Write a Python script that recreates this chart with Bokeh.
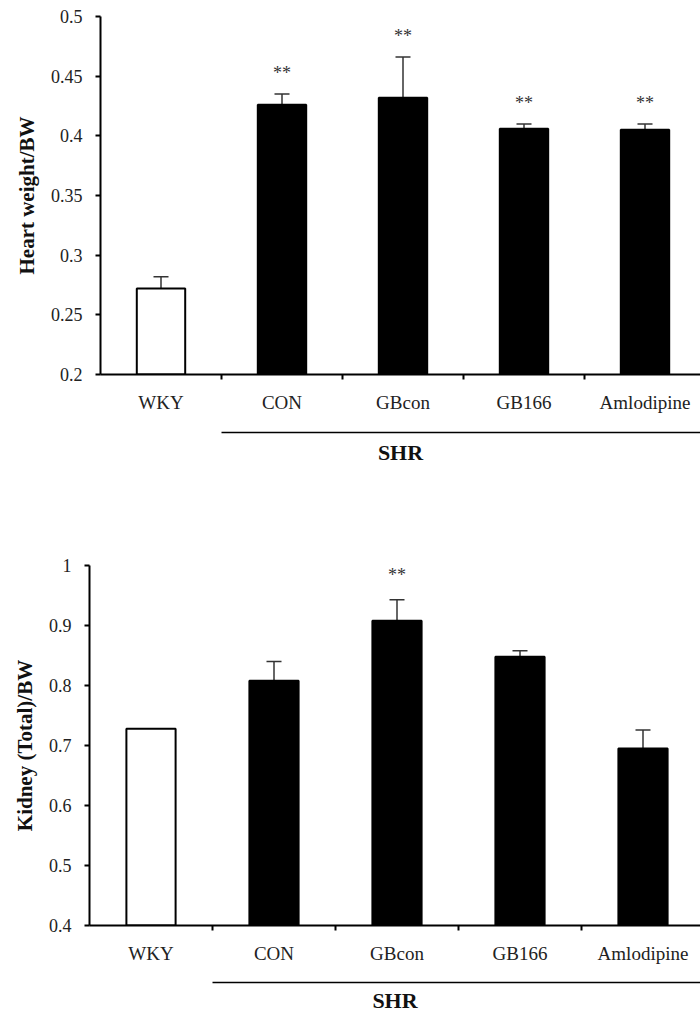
from bokeh.plotting import figure
from bokeh.models import FixedTicker, LinearAxis, Range1d, ColumnDataSource, Whisker, TeeHead
from bokeh.embed import file_html
from bokeh.resources import INLINE

categories = ["WKY", "CON", "GBcon", "GB166", "Amlodipine"]
bar_colors = ["white", "black", "black", "black", "black"]

heart_values = [0.272, 0.426, 0.432, 0.406, 0.405]
heart_errors = [0.010, 0.009, 0.034, 0.004, 0.005]
heart_stars = ["", "**", "**", "**", "**"]
heart_ticks = [0.2, 0.25, 0.3, 0.35, 0.4, 0.45, 0.5]
heart_tick_labels = ["0.2", "0.25", "0.3", "0.35", "0.4", "0.45", "0.5"]

kidney_values = [0.728, 0.808, 0.908, 0.848, 0.695]
kidney_errors = [0.0, 0.032, 0.035, 0.010, 0.031]
kidney_stars = ["", "", "**", "", ""]
kidney_ticks = [0.4, 0.5, 0.6, 0.7, 0.8, 0.9, 1.0]
kidney_tick_labels = ["0.4", "0.5", "0.6", "0.7", "0.8", "0.9", "1"]

group_label = "SHR"
group_span = (1, 5)

SERIF = "Liberation Serif"
TXT = "#111111"


def make_chart(values, errors, stars, ticks, tick_labels, ylabel, x_end,
               height, border_top, border_left, border_bottom, star_offset,
               cat_gap, group_gap):
    n = len(categories)
    centers = [i + 0.5 for i in range(n)]
    p = figure(width=700, height=height, output_backend="svg", toolbar_location=None,
               x_range=Range1d(0, x_end), y_range=Range1d(ticks[0], ticks[-1]),
               min_border_top=border_top, min_border_left=border_left,
               min_border_bottom=border_bottom, min_border_right=0,
               x_axis_type=None, y_axis_type=None)
    p.outline_line_color = None
    p.xgrid.visible = False
    p.ygrid.visible = False
    p.background_fill_color = "white"
    p.border_fill_color = "white"

    src = ColumnDataSource(dict(x=centers, top=values, color=bar_colors))
    p.vbar(x="x", top="top", bottom=ticks[0], width=0.4, source=src,
           fill_color="color", line_color="black", line_width=2)

    ex = [c for c, e in zip(centers, errors) if e > 0]
    et = [v for v, e in zip(values, errors) if e > 0]
    eu = [v + e for v, e in zip(values, errors) if e > 0]
    esrc = ColumnDataSource(dict(x=ex, top=et, upper=eu))
    w = Whisker(source=esrc, base="x", upper="upper", lower="top", dimension="height",
                line_color="#333333", line_width=1.5,
                upper_head=TeeHead(size=15, line_color="#333333", line_width=1.5),
                lower_head=None)
    p.add_layout(w)

    ssrc = ColumnDataSource(dict(x=centers, y=[v + e for v, e in zip(values, errors)], t=stars))
    p.text(x="x", y="y", text="t", source=ssrc, y_offset=star_offset,
           text_align="center", text_baseline="middle", text_color="#333333",
           text_font=SERIF, text_font_size="18px")

    # y axis
    ya = LinearAxis(ticker=FixedTicker(ticks=ticks, minor_ticks=[]),
                    major_label_overrides={t: l for t, l in zip(ticks, tick_labels)})
    ya.axis_label = ylabel
    ya.axis_label_text_font = SERIF
    ya.axis_label_text_font_style = "bold"
    ya.axis_label_text_font_size = "21px"
    ya.axis_label_text_color = TXT
    ya.axis_label_standoff = 9
    ya.major_label_text_font = SERIF
    ya.major_label_text_font_size = "18px"
    ya.major_label_text_color = "#222222"
    ya.major_label_standoff = 13
    ya.axis_line_width = 2
    ya.axis_line_color = "black"
    ya.major_tick_line_width = 2
    ya.major_tick_line_color = "black"
    ya.major_tick_out = 5
    ya.major_tick_in = 0
    ya.minor_tick_out = 0
    p.add_layout(ya, "left")

    # category axis: labels at centres, tick marks at category boundaries
    xa = LinearAxis(ticker=FixedTicker(ticks=centers, minor_ticks=list(range(1, n))),
                    major_label_overrides={c: k for c, k in zip(centers, categories)})
    xa.major_label_text_font = SERIF
    xa.major_label_text_font_size = "19px"
    xa.major_label_text_color = "#222222"
    xa.major_label_standoff = 12
    xa.axis_line_width = 2
    xa.axis_line_color = "black"
    xa.major_tick_out = 0
    xa.major_tick_in = 0
    xa.minor_tick_out = 5
    xa.minor_tick_in = 0
    xa.minor_tick_line_width = 2
    xa.minor_tick_line_color = "black"
    xa.axis_label = " "
    xa.axis_label_text_font_size = "10px"
    xa.axis_label_standoff = cat_gap
    p.add_layout(xa, "below")

    # group line with its label
    ga = LinearAxis(ticker=FixedTicker(ticks=[], minor_ticks=[]), bounds=group_span)
    ga.axis_line_width = 1.5
    ga.axis_line_color = "black"
    ga.major_tick_out = 0
    ga.major_tick_in = 0
    ga.minor_tick_out = 0
    ga.major_label_text_font_size = "1px"
    ga.major_label_standoff = 0
    ga.axis_label = group_label
    ga.axis_label_text_font = SERIF
    ga.axis_label_text_font_style = "bold"
    ga.axis_label_text_font_size = "22px"
    ga.axis_label_text_color = TXT
    ga.axis_label_standoff = group_gap
    p.add_layout(ga, "below")
    return p


top = make_chart(heart_values, heart_errors, heart_stars, heart_ticks, heart_tick_labels,
                 "Heart weight/BW", 600 / 121, 467, 16, 100, 90, -21, 3, 7)
bottom = make_chart(kidney_values, kidney_errors, kidney_stars, kidney_ticks, kidney_tick_labels,
                    "Kidney (Total)/BW", 611 / 123, 548, 98, 89, 88, -25, 2, 5)

open("out.html", "w").write(file_html([top, bottom], INLINE))
